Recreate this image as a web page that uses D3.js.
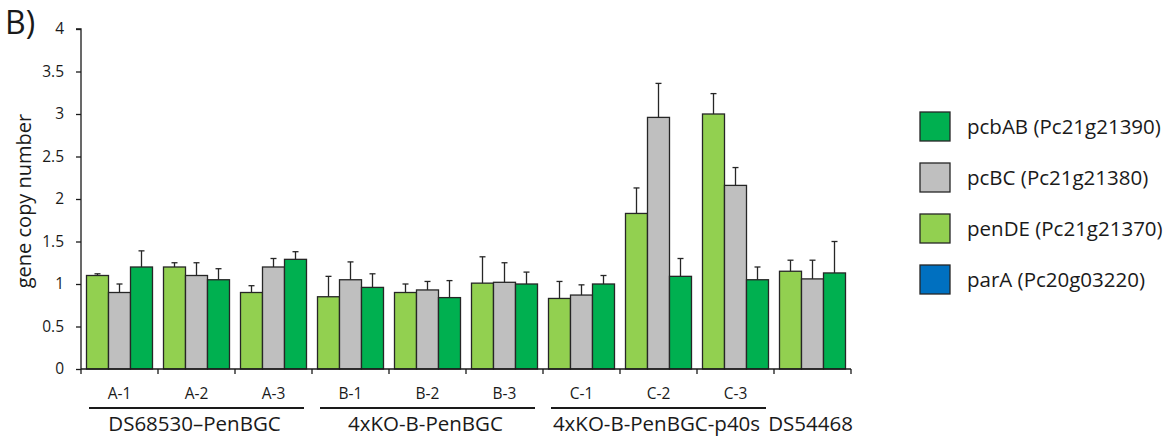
<!DOCTYPE html>
<html>
<head>
<meta charset="utf-8">
<script src="https://cdn.jsdelivr.net/npm/d3@7"></script>
<style>
  body { margin: 0; background: #fff; }
  svg text { font-family: "Open Sans", sans-serif; fill: #1a1a1a; }
</style>
</head>
<body>
<svg id="chart" width="1170" height="438"></svg>
<script>
// data
const categories = ["A-1", "A-2", "A-3", "B-1", "B-2", "B-3", "C-1", "C-2", "C-3", "DS54468"];
const tickLabels = ["A-1", "A-2", "A-3", "B-1", "B-2", "B-3", "C-1", "C-2", "C-3", ""];
const series = ["penDE", "pcBC", "pcbAB"];

const penDE    = [1.10, 1.20, 0.90, 0.85, 0.90, 1.01, 0.83, 1.83, 3.00, 1.15];
const penDEErr = [0.02, 0.05, 0.08, 0.24, 0.10, 0.31, 0.20, 0.30, 0.24, 0.13];
const pcBC     = [0.90, 1.10, 1.20, 1.05, 0.93, 1.02, 0.87, 2.96, 2.16, 1.06];
const pcBCErr  = [0.10, 0.15, 0.10, 0.21, 0.10, 0.23, 0.12, 0.40, 0.21, 0.22];
const pcbAB    = [1.20, 1.05, 1.29, 0.96, 0.84, 1.00, 1.00, 1.09, 1.05, 1.13];
const pcbABErr = [0.19, 0.13, 0.09, 0.16, 0.20, 0.14, 0.10, 0.21, 0.15, 0.37];

const groups = [
  { name: "DS68530\u2013PenBGC", from: 0, to: 2, line: true },
  { name: "4xKO-B-PenBGC", from: 3, to: 5, line: true },
  { name: "4xKO-B-PenBGC-p40s", from: 6, to: 8, line: true },
  { name: "DS54468", from: 9, to: 9, line: false }
];

const legendItems = [
  { key: "pcbAB", label: "pcbAB (Pc21g21390)" },
  { key: "pcBC", label: "pcBC (Pc21g21380)" },
  { key: "penDE", label: "penDE (Pc21g21370)" },
  { key: "parA", label: "parA (Pc20g03220)" }
];

const colors = { penDE: "#92d050", pcBC: "#bfbfbf", pcbAB: "#00b050", parA: "#0070c0" };

const values = { penDE, pcBC, pcbAB };
const errors = { penDE: penDEErr, pcBC: pcBCErr, pcbAB: pcbABErr };

const svg = d3.select("#chart");
const margin = { left: 81, right: 319, top: 29, bottom: 69 };
const width = 1170, height = 438;

const x0 = d3.scaleBand().domain(categories)
  .range([margin.left, width - margin.right]);
const x1 = d3.scaleBand().domain(series)
  .range([0, x0.bandwidth()]).paddingOuter(0.25);
const y = d3.scaleLinear().domain([0, 4]).range([height - margin.bottom, margin.top]);

// bars
const cat = svg.append("g").selectAll("g")
  .data(categories)
  .join("g")
  .attr("transform", d => `translate(${x0(d)},0)`);

cat.selectAll("rect")
  .data((d, i) => series.map(s => ({ s, v: values[s][i], e: errors[s][i] })))
  .join("rect")
  .attr("x", d => x1(d.s))
  .attr("y", d => y(d.v))
  .attr("width", x1.bandwidth())
  .attr("height", d => y(0) - y(d.v))
  .attr("fill", d => colors[d.s])
  .attr("stroke", "#262626")
  .attr("stroke-width", 1.3);

// error bars (upper only)
const err = cat.selectAll("g.err")
  .data((d, i) => series.map(s => ({ s, v: values[s][i], e: errors[s][i] })))
  .join("g").attr("class", "err")
  .attr("stroke", "#262626").attr("stroke-width", 1.3);
err.append("line")
  .attr("x1", d => x1(d.s) + x1.bandwidth() / 2)
  .attr("x2", d => x1(d.s) + x1.bandwidth() / 2)
  .attr("y1", d => y(d.v))
  .attr("y2", d => y(d.v + d.e));
err.append("line")
  .attr("x1", d => x1(d.s) + x1.bandwidth() / 2 - 3)
  .attr("x2", d => x1(d.s) + x1.bandwidth() / 2 + 3)
  .attr("y1", d => y(d.v + d.e))
  .attr("y2", d => y(d.v + d.e));

// y axis
const yAxis = svg.append("g")
  .attr("transform", `translate(${margin.left},0)`)
  .call(d3.axisLeft(y).tickValues(d3.range(0, 4.01, 0.5)).tickSize(5).tickPadding(12)
    .tickFormat(d3.format("~g")));
yAxis.select(".domain").attr("stroke", "#1a1a1a").attr("stroke-width", 1.3).attr("d", `M-5,${y(4)}H0V${y(0)}`);
yAxis.selectAll(".tick line").attr("stroke", "#1a1a1a").attr("stroke-width", 1.3);
yAxis.selectAll(".tick text").attr("font-size", 15.5).attr("font-family", "Open Sans").attr("fill", "#1a1a1a");

// x axis
const xAxis = svg.append("g")
  .attr("transform", `translate(0,${y(0)})`)
  .call(d3.axisBottom(x0).tickSize(0).tickFormat((d, i) => tickLabels[i]).tickPadding(19));
xAxis.select(".domain").attr("stroke", "#1a1a1a").attr("stroke-width", 1.3)
  .attr("d", `M${margin.left},0H${width - margin.right}`);
xAxis.selectAll(".tick text").attr("font-size", 15.5).attr("font-family", "Open Sans").attr("fill", "#1a1a1a");

// tick marks between categories
svg.append("g").selectAll("line")
  .data(categories.concat(["end"]))
  .join("line")
  .attr("x1", (d, i) => i < categories.length ? x0(d) : x0(categories[categories.length - 1]) + x0.bandwidth())
  .attr("x2", (d, i) => i < categories.length ? x0(d) : x0(categories[categories.length - 1]) + x0.bandwidth())
  .attr("y1", y(0)).attr("y2", y(0) + 5)
  .attr("stroke", "#1a1a1a").attr("stroke-width", 1.3);

// group labels
const grp = svg.append("g").selectAll("g").data(groups).join("g");
grp.filter(d => d.line).append("line")
  .attr("x1", d => x0(categories[d.from]) + 8)
  .attr("x2", d => x0(categories[d.to]) + x0.bandwidth() - 8)
  .attr("y1", 408).attr("y2", 408)
  .attr("stroke", "#1a1a1a").attr("stroke-width", 1.8);
grp.append("text")
  .attr("x", d => (x0(categories[d.from]) + x0(categories[d.to]) + x0.bandwidth()) / 2 - 2)
  .attr("y", 431)
  .attr("text-anchor", "middle")
  .attr("font-size", 20.5)
  .text(d => d.name);

// y title
svg.append("text")
  .attr("transform", `translate(31,${(y(0) + y(4)) / 2 + 2}) rotate(-90)`)
  .attr("text-anchor", "middle")
  .attr("font-size", 20)
  .text("gene copy number");

// panel letter
svg.append("text").attr("x", 5).attr("y", 34).attr("font-size", 32).text("B)");

// legend
const leg = svg.append("g").selectAll("g").data(legendItems).join("g")
  .attr("transform", (d, i) => `translate(920,${112 + i * 51})`);
leg.append("rect")
  .attr("width", 30).attr("height", 29)
  .attr("fill", d => colors[d.key])
  .attr("stroke", "#262626").attr("stroke-width", 1.3);
leg.append("text")
  .attr("x", 47).attr("y", 14.5).attr("dy", "0.35em")
  .attr("font-size", 20.5)
  .text(d => d.label);
</script>
</body>
</html>
